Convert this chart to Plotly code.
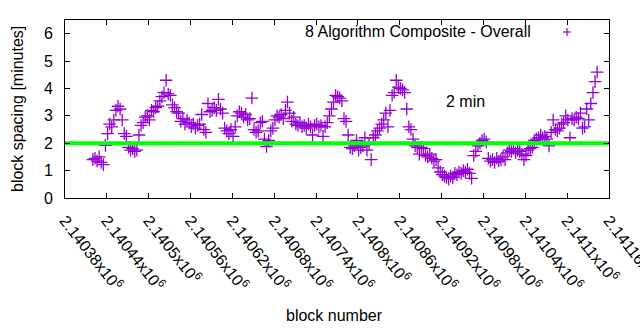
import plotly.graph_objects as go

# Block spacing (minutes), one sample every 3 blocks starting at block 2140420
first_block = 2140420
block_step = 3
spacing_min = [
    1.40, 1.45, 1.35, 1.50, 1.30, 1.22, 1.92, 2.35, 2.70, 2.60,
    2.85, 3.20, 3.35, 3.25, 2.85, 2.35, 2.25, 1.85, 1.75, 1.80,
    1.70, 1.75, 2.30, 2.65, 2.75, 2.95, 3.00, 2.85, 3.20, 3.15,
    3.30, 3.35, 3.55, 3.70, 3.85, 4.30, 3.80, 3.75, 3.40, 3.30,
    3.15, 3.10, 2.80, 2.90, 2.70, 2.85, 2.75, 2.60, 2.70, 2.55,
    2.65, 2.70, 3.05, 2.50, 2.40, 3.45, 3.15, 3.20, 3.30, 3.20,
    3.60, 3.25, 3.10, 2.55, 2.45, 2.35, 2.50, 2.25, 2.60, 3.00,
    3.15, 3.10, 2.95, 3.05, 2.85, 2.90, 3.65, 2.50, 2.40, 2.45,
    2.75, 2.80, 2.15, 1.88, 2.10, 2.45, 2.55, 2.85, 3.00, 2.95,
    3.05, 2.90, 3.20, 3.50, 3.10, 2.80, 2.95, 2.70, 2.65, 2.75,
    2.60, 2.65, 2.55, 2.70, 2.60, 2.30, 2.65, 2.70, 2.60, 2.65,
    2.25, 2.60, 2.75, 3.00, 3.25, 3.50, 3.75, 3.70, 3.65, 3.55,
    2.90, 2.80, 2.30, 1.85, 1.80, 1.90, 2.10, 1.75, 1.85, 1.90,
    2.20, 1.75, 1.95, 1.40, 2.20, 2.30, 2.45, 2.55, 2.70, 2.85,
    3.10, 2.60, 3.20, 3.75, 3.85, 4.30, 4.05, 4.00, 3.95, 3.85,
    3.25, 2.60, 2.50, 2.15, 1.90, 1.85, 1.60, 1.85, 1.80, 1.55,
    1.50, 1.60, 1.45, 1.35, 1.40, 1.10, 0.95, 0.85, 0.80, 0.75,
    0.70, 0.80, 0.75, 0.90, 0.85, 0.95, 0.90, 1.00, 0.95, 1.05,
    0.90, 0.72, 1.55, 1.70, 1.90, 2.00, 2.10, 2.15, 2.05, 1.45,
    1.35, 1.40, 1.30, 1.45, 1.35, 1.40, 1.50, 1.40, 1.65, 1.75,
    1.70, 1.80, 1.65, 1.75, 1.70, 1.60, 1.40, 1.55, 1.75, 1.80,
    1.85, 2.10, 2.15, 2.20, 2.30, 2.20, 2.25, 2.15, 1.90, 2.40,
    2.85, 2.50, 2.45, 2.55, 2.70, 2.75, 3.00, 2.85, 2.20, 2.90,
    2.85, 2.95, 2.90, 3.10, 2.55, 2.60, 3.25, 2.85, 3.45, 3.85,
    4.25, 4.60,
]
blocks = [first_block + block_step * i for i in range(len(spacing_min))]

target_minutes = 2

x_tick_vals = [2140380, 2140440, 2140500, 2140560, 2140620, 2140680, 2140740,
               2140800, 2140860, 2140920, 2140980, 2141040, 2141100, 2141160]
x_tick_text = ["2.14038x10<sup>6</sup>", "2.14044x10<sup>6</sup>", "2.1405x10<sup>6</sup>",
               "2.14056x10<sup>6</sup>", "2.14062x10<sup>6</sup>", "2.14068x10<sup>6</sup>",
               "2.14074x10<sup>6</sup>", "2.1408x10<sup>6</sup>", "2.14086x10<sup>6</sup>",
               "2.14092x10<sup>6</sup>", "2.14098x10<sup>6</sup>", "2.14104x10<sup>6</sup>",
               "2.1411x10<sup>6</sup>", "2.14116x10<sup>6</sup>"]
y_tick_vals = [0, 1, 2, 3, 4, 5, 6]

x_range = [2140380, 2141160]
y_range = [0, 6.5]

PURPLE = "#9400d3"
GREEN = "#00ff00"
FONT = "Liberation Sans, Arial, sans-serif"
FS = 16

# plot area in pixels: x 65..609, y 20..198
PW, PH = 544, 178

fig = go.Figure()

fig.add_trace(go.Scatter(
    x=blocks, y=spacing_min, mode="markers",
    marker=dict(symbol="cross-thin-open", size=9,
                line=dict(color=PURPLE, width=1.3), color=PURPLE),
    showlegend=False, hoverinfo="skip",
))

fig.add_trace(go.Scatter(
    x=x_range, y=[target_minutes, target_minutes], mode="lines",
    line=dict(color=GREEN, width=4), showlegend=False, hoverinfo="skip",
))

axis_common = dict(
    showgrid=False, zeroline=False, showline=True, linecolor="black",
    linewidth=1, mirror="ticks", ticks="inside", ticklen=5,
    tickcolor="black", tickwidth=1,
    tickfont=dict(family=FONT, size=FS, color="black"),
)

fig.update_xaxes(range=x_range, tickvals=x_tick_vals, ticktext=x_tick_text,
                 tickangle=52, ticklabelstandoff=6, automargin=False,
                 ticklabeloverflow="allow", **axis_common)
fig.update_yaxes(range=y_range, tickvals=y_tick_vals, ticklabelstandoff=8,
                 automargin=False, **axis_common)

# Key entry in the top-right corner
fig.add_annotation(text="8 Algorithm Composite - Overall", xref="paper", yref="paper",
                   x=(533 - 65) / PW, y=1 - 12 / PH, xanchor="right", yanchor="middle",
                   showarrow=False, font=dict(family=FONT, size=FS, color="black"))
for dx0, dx1, dy0, dy1 in [(-4, 4, 0, 0), (0, 0, -4, 4)]:
    fig.add_shape(type="line", xref="paper", yref="paper",
                  xsizemode="pixel", ysizemode="pixel",
                  xanchor=(567 - 65) / PW, yanchor=1 - 12 / PH,
                  x0=dx0, x1=dx1, y0=dy0, y1=dy1,
                  line=dict(color=PURPLE, width=1.2))

fig.add_annotation(text="2 min", xref="paper", yref="paper",
                   x=(465 - 65) / PW, y=(198 - 101) / PH,
                   xanchor="center", yanchor="middle", showarrow=False,
                   font=dict(family=FONT, size=FS, color="black"))

fig.add_annotation(text="block number", xref="paper", yref="paper",
                   x=(334 - 65) / PW, y=-(315 - 198) / PH,
                   xanchor="center", yanchor="middle", showarrow=False,
                   font=dict(family=FONT, size=FS, color="black"))
fig.add_annotation(text="block spacing [minutes]", xref="paper", yref="paper",
                   x=-(65 - 17) / PW, y=(198 - 109) / PH, textangle=-90,
                   xanchor="center", yanchor="middle", showarrow=False,
                   font=dict(family=FONT, size=FS, color="black"))

fig.update_layout(
    width=640, height=330,
    margin=dict(l=65, r=31, t=20, b=132),
    paper_bgcolor="white", plot_bgcolor="white",
)

fig.write_html("out.html")
